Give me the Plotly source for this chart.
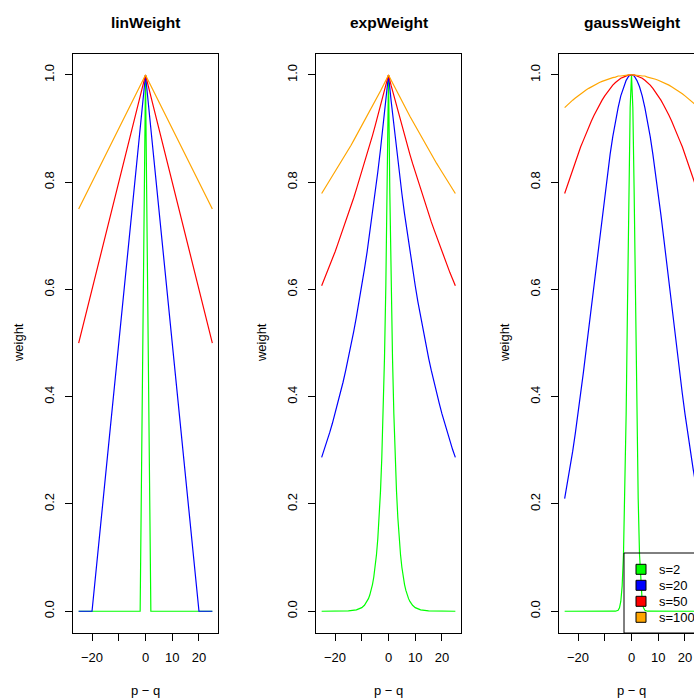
import plotly.graph_objects as go

# ---------------- data ----------------
panel_titles = ["linWeight", "expWeight", "gaussWeight"]
scale_labels = ["s=2", "s=20", "s=50", "s=100"]
scale_colors = ["#00FF00", "#0000FF", "#FF0000", "#FFA500"]

x_ticks = [-20, -10, 0, 10, 20]
x_tick_text = ["\u221220", "", "0", "10", "20"]
y_ticks = [0.0, 0.2, 0.4, 0.6, 0.8, 1.0]
y_tick_text = ["0.0", "0.2", "0.4", "0.6", "0.8", "1.0"]

# integer grid p - q used for the smooth wide curves
pq_int = list(range(-25, 26))

# linWeight
lin_x_s2 = [-25, -2, 0, 2, 25]
lin_y_s2 = [0.0, 0.0, 1.0, 0.0, 0.0]
lin_x_s20 = [-25, -20, 0, 20, 25]
lin_y_s20 = [0.0, 0.0, 1.0, 0.0, 0.0]
lin_x_s50 = [-25, 0, 25]
lin_y_s50 = [0.5, 1.0, 0.5]
lin_x_s100 = [-25, 0, 25]
lin_y_s100 = [0.75, 1.0, 0.75]

# expWeight
exp_x_s2 = [-25, -15, -12, -10, -9, -8, -7.5, -7, -6.5, -6, -5.5, -5, -4.5, -4, -3.5, -3,
            -2.5, -2, -1.5, -1, -0.5, 0, 0.5, 1, 1.5, 2, 2.5, 3, 3.5, 4, 4.5, 5, 5.5, 6,
            6.5, 7, 7.5, 8, 9, 10, 12, 15, 25]
exp_y_s2 = [0.0, 0.0006, 0.0025, 0.0067, 0.0111, 0.0183, 0.0235, 0.0302, 0.0388, 0.0498,
            0.0639, 0.0821, 0.1054, 0.1353, 0.1738, 0.2231, 0.2865, 0.3679, 0.4724, 0.6065,
            0.7788, 1.0, 0.7788, 0.6065, 0.4724, 0.3679, 0.2865, 0.2231, 0.1738, 0.1353,
            0.1054, 0.0821, 0.0639, 0.0498, 0.0388, 0.0302, 0.0235, 0.0183, 0.0111, 0.0067,
            0.0025, 0.0006, 0.0]
exp_y_s20 = [0.287, 0.301, 0.317, 0.333, 0.350, 0.368, 0.387, 0.407, 0.427, 0.449, 0.472,
             0.497, 0.522, 0.549, 0.577, 0.607, 0.638, 0.670, 0.705, 0.741, 0.779, 0.819,
             0.861, 0.905, 0.951, 1.000, 0.951, 0.905, 0.861, 0.819, 0.779, 0.741, 0.705,
             0.670, 0.638, 0.607, 0.577, 0.549, 0.522, 0.497, 0.472, 0.449, 0.427, 0.407,
             0.387, 0.368, 0.350, 0.333, 0.317, 0.301, 0.287]
exp_y_s50 = [0.607, 0.619, 0.631, 0.644, 0.657, 0.670, 0.684, 0.698, 0.712, 0.726, 0.741,
             0.756, 0.771, 0.787, 0.803, 0.819, 0.835, 0.852, 0.869, 0.887, 0.905, 0.923,
             0.942, 0.961, 0.980, 1.000, 0.980, 0.961, 0.942, 0.923, 0.905, 0.887, 0.869,
             0.852, 0.835, 0.819, 0.803, 0.787, 0.771, 0.756, 0.741, 0.726, 0.712, 0.698,
             0.684, 0.670, 0.657, 0.644, 0.631, 0.619, 0.607]
exp_y_s100 = [0.779, 0.787, 0.795, 0.803, 0.811, 0.819, 0.827, 0.835, 0.844, 0.852, 0.861,
              0.869, 0.878, 0.887, 0.896, 0.905, 0.914, 0.923, 0.932, 0.942, 0.951, 0.961,
              0.970, 0.980, 0.990, 1.000, 0.990, 0.980, 0.970, 0.961, 0.951, 0.942, 0.932,
              0.923, 0.914, 0.905, 0.896, 0.887, 0.878, 0.869, 0.861, 0.852, 0.844, 0.835,
              0.827, 0.819, 0.811, 0.803, 0.795, 0.787, 0.779]

# gaussWeight
gauss_x_s2 = [-25, -6, -5, -4.5, -4, -3.5, -3, -2.5, -2, -1.5, -1, -0.5, 0, 0.5, 1, 1.5, 2,
              2.5, 3, 3.5, 4, 4.5, 5, 6, 25]
gauss_y_s2 = [0.0, 0.0001, 0.0019, 0.0063, 0.0183, 0.0468, 0.1054, 0.2096, 0.3679, 0.5698,
              0.7788, 0.9394, 1.0, 0.9394, 0.7788, 0.5698, 0.3679, 0.2096, 0.1054, 0.0468,
              0.0183, 0.0063, 0.0019, 0.0001, 0.0]
gauss_y_s20 = [0.210, 0.237, 0.267, 0.298, 0.332, 0.368, 0.406, 0.445, 0.486, 0.527, 0.570,
               0.613, 0.655, 0.698, 0.739, 0.779, 0.817, 0.852, 0.885, 0.914, 0.939, 0.961,
               0.978, 0.990, 0.998, 1.000, 0.998, 0.990, 0.978, 0.961, 0.939, 0.914, 0.885,
               0.852, 0.817, 0.779, 0.739, 0.698, 0.655, 0.613, 0.570, 0.527, 0.486, 0.445,
               0.406, 0.368, 0.332, 0.298, 0.267, 0.237, 0.210]
gauss_y_s50 = [0.779, 0.794, 0.809, 0.824, 0.838, 0.852, 0.866, 0.878, 0.891, 0.903, 0.914,
               0.925, 0.935, 0.944, 0.953, 0.961, 0.968, 0.975, 0.981, 0.986, 0.990, 0.994,
               0.996, 0.998, 1.000, 1.000, 1.000, 0.998, 0.996, 0.994, 0.990, 0.986, 0.981,
               0.975, 0.968, 0.961, 0.953, 0.944, 0.935, 0.925, 0.914, 0.903, 0.891, 0.878,
               0.866, 0.852, 0.838, 0.824, 0.809, 0.794, 0.779]
gauss_y_s100 = [0.939, 0.944, 0.948, 0.953, 0.957, 0.961, 0.965, 0.968, 0.972, 0.975, 0.978,
                0.981, 0.983, 0.986, 0.988, 0.990, 0.992, 0.994, 0.995, 0.996, 0.998, 0.998,
                0.999, 1.000, 1.000, 1.000, 1.000, 1.000, 0.999, 0.998, 0.998, 0.996, 0.995,
                0.994, 0.992, 0.990, 0.988, 0.986, 0.983, 0.981, 0.978, 0.975, 0.972, 0.968,
                0.965, 0.961, 0.957, 0.953, 0.948, 0.944, 0.939]

panels = [
    [(lin_x_s2, lin_y_s2), (lin_x_s20, lin_y_s20), (lin_x_s50, lin_y_s50), (lin_x_s100, lin_y_s100)],
    [(exp_x_s2, exp_y_s2), (pq_int, exp_y_s20), (pq_int, exp_y_s50), (pq_int, exp_y_s100)],
    [(gauss_x_s2, gauss_y_s2), (pq_int, gauss_y_s20), (pq_int, gauss_y_s50), (pq_int, gauss_y_s100)],
]

# ---------------- layout geometry (pixels) ----------------
W, H = 729, 699
STEP = 243
BOX_L, BOX_R, BOX_T, BOX_B = 73.3, 217.7, 53.5, 632.7
FONT = "Liberation Sans, Arial, Helvetica, sans-serif"

# legend geometry (R-style legend box in third panel, transparent background)
LEG_L, LEG_T, LEG_B = 624, 553, 633
LEG_ROW0, LEG_ROW_STEP = 569.3, 16
LEG_SQ_CX, LEG_SQ_HALF, LEG_TEXT_X = 641, 5, 657


def px(xp):
    return xp / W


def py(yp):
    return (H - yp) / H


fig = go.Figure()
annotations = []
shapes = []

for i, series in enumerate(panels):
    sfx = "" if i == 0 else str(i + 1)
    for (xs, ys), col in zip(series, scale_colors):
        fig.add_trace(go.Scatter(x=xs, y=ys, mode="lines", line=dict(color=col, width=1.2),
                                 showlegend=False, hoverinfo="skip",
                                 xaxis="x" + sfx, yaxis="y" + sfx))
    off = i * STEP
    common = dict(ticks="outside", ticklen=7, tickwidth=1, tickcolor="black",
                  showline=True, mirror=True, linecolor="black", linewidth=1,
                  showgrid=False, zeroline=False, automargin=False, fixedrange=True,
                  tickfont=dict(family=FONT, size=13, color="black"))
    fig.layout["xaxis" + sfx] = dict(
        domain=[px(BOX_L + off), px(BOX_R + off)], range=[-27, 27],
        tickmode="array", tickvals=x_ticks, ticktext=x_tick_text,
        anchor="y" + sfx, ticklabelstandoff=6, **common)
    fig.layout["yaxis" + sfx] = dict(
        domain=[py(BOX_B), py(BOX_T)], range=[-0.04, 1.04],
        tickmode="array", tickvals=y_ticks, ticktext=y_tick_text, tickangle=-90,
        anchor="x" + sfx, ticklabelstandoff=6, **common)
    cx = (BOX_L + BOX_R) / 2 + off
    annotations.append(dict(text="<b>" + panel_titles[i] + "</b>", x=px(cx), y=py(23),
                            xref="paper", yref="paper", showarrow=False,
                            xanchor="center", yanchor="middle",
                            font=dict(family=FONT, size=15.5, color="black")))
    annotations.append(dict(text="p \u2212 q", x=px(cx), y=py(690),
                            xref="paper", yref="paper", showarrow=False,
                            xanchor="center", yanchor="middle",
                            font=dict(family=FONT, size=13, color="black")))
    annotations.append(dict(text="weight", x=px(18 + off), y=py((BOX_T + BOX_B) / 2),
                            xref="paper", yref="paper", showarrow=False, textangle=-90,
                            xanchor="center", yanchor="middle",
                            font=dict(family=FONT, size=13, color="black")))

# R-style legend: outlined box, filled squares with black border, labels
shapes.append(dict(type="rect", xref="paper", yref="paper",
                   x0=px(LEG_L), x1=px(W + 20), y0=py(LEG_B), y1=py(LEG_T),
                   line=dict(color="black", width=1), fillcolor="rgba(0,0,0,0)",
                   layer="above"))
for k, (lab, col) in enumerate(zip(scale_labels, scale_colors)):
    cy = LEG_ROW0 + k * LEG_ROW_STEP
    shapes.append(dict(type="rect", xref="paper", yref="paper",
                       x0=px(LEG_SQ_CX - LEG_SQ_HALF), x1=px(LEG_SQ_CX + LEG_SQ_HALF),
                       y0=py(cy + LEG_SQ_HALF), y1=py(cy - LEG_SQ_HALF),
                       line=dict(color="black", width=1), fillcolor=col, layer="above"))
    annotations.append(dict(text=lab, x=px(LEG_TEXT_X), y=py(cy),
                            xref="paper", yref="paper", showarrow=False,
                            xanchor="left", yanchor="middle",
                            font=dict(family=FONT, size=13, color="black")))

fig.update_layout(
    width=W, height=H,
    margin=dict(l=0, r=0, t=0, b=0),
    paper_bgcolor="white", plot_bgcolor="white",
    font=dict(family=FONT, size=13, color="black"),
    annotations=annotations,
    shapes=shapes,
    showlegend=False,
)

fig.write_html("out.html", config={"displayModeBar": False, "staticPlot": True},
               post_script="document.documentElement.style.overflow='hidden';"
                           "document.body.style.overflow='hidden';"
                           "document.body.style.margin='0';")
